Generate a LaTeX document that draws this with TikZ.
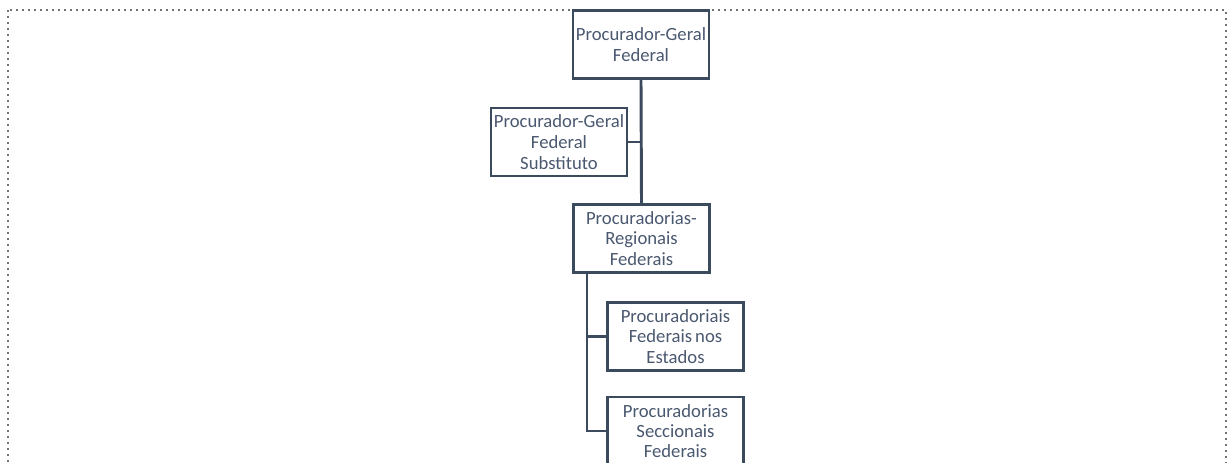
\documentclass[tikz,border=0pt]{standalone}
\usepackage{fontspec}
\setmainfont{Carlito}
\usetikzlibrary{positioning}
\definecolor{boxline}{HTML}{3B4A5C}
\definecolor{boxtext}{HTML}{4A5870}
\tikzset{orgbox/.style={rectangle, draw=boxline, line width=1.8pt, fill=white,
  text=boxtext, text width=102pt, align=center, inner sep=0pt,
  minimum width=102pt, minimum height=51pt,
  font=\fontsize{14}{15.5}\selectfont}}
\tikzset{link/.style={draw=boxline, line width=2.2pt}}
\begin{document}
\begin{tikzpicture}[x=0.75pt, y=-0.75pt]

    \useasboundingbox (0,0) rectangle (1229,463);
    \clip (0,0) rectangle (1229,463);

    % dotted frame
    \draw [black!55, line width=1.5pt, dash pattern=on 1.5pt off 3pt] (8,10) rectangle (1226,480);

    \node [orgbox] at (641,44.5) (pgf) {Procurador-Geral\\Federal};
    \node [orgbox] at (559,142) (subst) {Procurador-Geral\\Federal\\Substituto};
    \node [orgbox] at (641.5,238.5) (reg) {Procuradorias-\\Regionais\\Federais};
    \node [orgbox] at (675.5,336.5) (est) {Procuradoriais\\Federais\,nos\\Estados};
    \node [orgbox, font=\fontsize{14}{15}\selectfont] at (675.5,431) (sec) {Procuradorias\\Seccionais\\Federais};

    \coordinate (trunk) at (587,273);

    \draw [link] (pgf.south) -- (reg.north);
    \draw [link] (subst.east) -- (subst.east -| pgf.south);
    \draw [link] (trunk) |- (est.west);
    \draw [link] (trunk) |- (sec.west);

\end{tikzpicture}
\end{document}
